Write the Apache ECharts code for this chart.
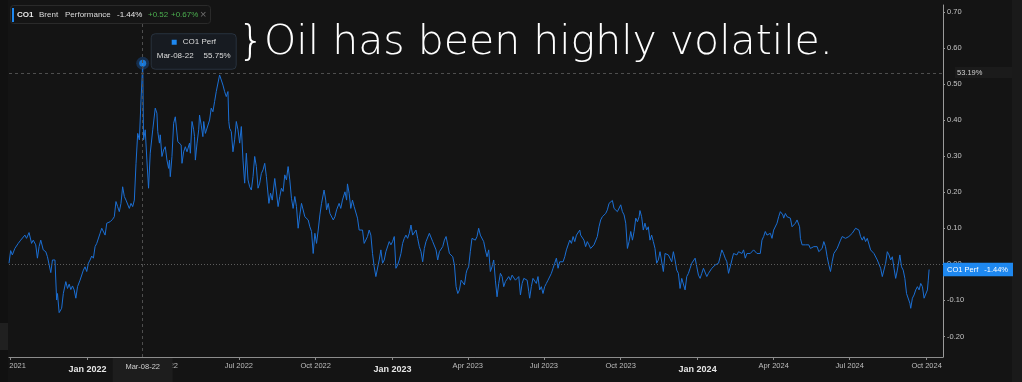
<!DOCTYPE html>
<html><head><meta charset="utf-8">
<script src="https://cdn.jsdelivr.net/npm/echarts@6/dist/echarts.min.js"></script>
<style>html,body{margin:0;padding:0;background:#141414;overflow:hidden}#c{width:1022px;height:382px;}</style>
</head><body><div id="c"></div>
<script>
// ---- Data: Brent (CO1) performance, fraction of starting price ----
const dates = [
'2021-09-29',
'2021-10-01','2021-10-03','2021-10-06','2021-10-10','2021-10-13','2021-10-15','2021-10-18','2021-10-20','2021-10-23','2021-10-26','2021-10-28','2021-10-31',
'2021-11-02','2021-11-04','2021-11-06','2021-11-09','2021-11-12','2021-11-14','2021-11-16','2021-11-18','2021-11-20','2021-11-23','2021-11-25','2021-11-26','2021-11-28',
'2021-12-01','2021-12-03','2021-12-06','2021-12-08','2021-12-10','2021-12-12','2021-12-14','2021-12-16','2021-12-18','2021-12-20','2021-12-23','2021-12-25','2021-12-27','2021-12-29','2021-12-31',
'2022-01-02','2022-01-04','2022-01-06','2022-01-08','2022-01-10','2022-01-12','2022-01-14','2022-01-16','2022-01-18','2022-01-20','2022-01-22','2022-01-24','2022-01-26','2022-01-28','2022-01-31',
'2022-02-02','2022-02-04','2022-02-06','2022-02-08','2022-02-10','2022-02-12','2022-02-14','2022-02-16','2022-02-18','2022-02-20','2022-02-22','2022-02-24','2022-02-26','2022-02-28',
'2022-03-02','2022-03-04','2022-03-06','2022-03-08','2022-03-09','2022-03-11','2022-03-13','2022-03-15','2022-03-17','2022-03-20','2022-03-22','2022-03-23','2022-03-25','2022-03-26','2022-03-28','2022-03-29','2022-03-31',
'2022-04-02','2022-04-04','2022-04-06','2022-04-08','2022-04-09','2022-04-10','2022-04-12','2022-04-14','2022-04-16','2022-04-18','2022-04-19','2022-04-21','2022-04-23','2022-04-24','2022-04-26','2022-04-28','2022-04-30',
'2022-05-03','2022-05-04','2022-05-06','2022-05-08','2022-05-09','2022-05-10','2022-05-12','2022-05-14','2022-05-15','2022-05-17','2022-05-19','2022-05-20','2022-05-22','2022-05-24','2022-05-27','2022-05-29','2022-05-31',
'2022-06-02','2022-06-04','2022-06-06','2022-06-08','2022-06-10','2022-06-12','2022-06-14','2022-06-16','2022-06-18','2022-06-19','2022-06-20','2022-06-22','2022-06-24','2022-06-26','2022-06-28','2022-06-30',
'2022-07-02','2022-07-04','2022-07-06','2022-07-08','2022-07-10','2022-07-12','2022-07-14','2022-07-16','2022-07-18','2022-07-20','2022-07-22','2022-07-24','2022-07-26','2022-07-28','2022-07-30',
'2022-08-01','2022-08-03','2022-08-06','2022-08-08','2022-08-10','2022-08-13','2022-08-15','2022-08-17','2022-08-19','2022-08-21','2022-08-23','2022-08-25','2022-08-27','2022-08-29','2022-08-31',
'2022-09-02','2022-09-04','2022-09-06','2022-09-08','2022-09-10','2022-09-12','2022-09-14','2022-09-16','2022-09-18','2022-09-20','2022-09-22','2022-09-24','2022-09-26','2022-09-28','2022-09-30',
'2022-10-02','2022-10-04','2022-10-06','2022-10-08','2022-10-11','2022-10-13','2022-10-14','2022-10-16','2022-10-18','2022-10-22','2022-10-24','2022-10-26','2022-10-29','2022-10-31',
'2022-11-02','2022-11-05','2022-11-07','2022-11-08','2022-11-10','2022-11-12','2022-11-14','2022-11-16','2022-11-17','2022-11-20','2022-11-22','2022-11-24','2022-11-26','2022-11-28','2022-11-30',
'2022-12-02','2022-12-04','2022-12-06','2022-12-08','2022-12-10','2022-12-12','2022-12-14','2022-12-16','2022-12-18','2022-12-20','2022-12-22','2022-12-24','2022-12-26','2022-12-28','2022-12-30',
'2023-01-01','2023-01-03','2023-01-05','2023-01-07','2023-01-09','2023-01-11','2023-01-13','2023-01-15','2023-01-17','2023-01-19','2023-01-21','2023-01-23','2023-01-25','2023-01-27','2023-01-29','2023-01-31',
'2023-02-02','2023-02-04','2023-02-06','2023-02-08','2023-02-10','2023-02-12','2023-02-14','2023-02-16','2023-02-18','2023-02-20','2023-02-22','2023-02-24','2023-02-26','2023-02-28',
'2023-03-02','2023-03-04','2023-03-06','2023-03-08','2023-03-10','2023-03-12','2023-03-14','2023-03-16','2023-03-18','2023-03-20','2023-03-22','2023-03-24','2023-03-26','2023-03-28','2023-03-30','2023-03-31',
'2023-04-02','2023-04-04','2023-04-06','2023-04-08','2023-04-10','2023-04-12','2023-04-14','2023-04-16','2023-04-18','2023-04-20','2023-04-22','2023-04-24','2023-04-26','2023-04-28','2023-04-30',
'2023-05-02','2023-05-04','2023-05-06','2023-05-08','2023-05-10','2023-05-12','2023-05-14','2023-05-16','2023-05-18','2023-05-20','2023-05-22','2023-05-24','2023-05-26','2023-05-28','2023-05-30',
'2023-06-01','2023-06-03','2023-06-05','2023-06-07','2023-06-09','2023-06-11','2023-06-13','2023-06-14','2023-06-16','2023-06-18','2023-06-20','2023-06-22','2023-06-24','2023-06-26','2023-06-28','2023-06-30',
'2023-07-02','2023-07-04','2023-07-06','2023-07-08','2023-07-10','2023-07-12','2023-07-14','2023-07-16','2023-07-18','2023-07-20','2023-07-22','2023-07-24','2023-07-26','2023-07-28','2023-07-30',
'2023-08-01','2023-08-03','2023-08-05','2023-08-07','2023-08-09','2023-08-11','2023-08-13','2023-08-14','2023-08-16','2023-08-18','2023-08-20','2023-08-22','2023-08-24','2023-08-26','2023-08-28','2023-08-30',
'2023-09-01','2023-09-03','2023-09-05','2023-09-07','2023-09-09','2023-09-11','2023-09-13','2023-09-15','2023-09-17','2023-09-19','2023-09-21','2023-09-23','2023-09-25','2023-09-27','2023-09-29',
'2023-10-01','2023-10-03','2023-10-05','2023-10-07','2023-10-09','2023-10-11','2023-10-13','2023-10-15','2023-10-17','2023-10-19','2023-10-21','2023-10-23','2023-10-24','2023-10-26','2023-10-28','2023-10-30',
'2023-11-01','2023-11-03','2023-11-05','2023-11-07','2023-11-09','2023-11-11','2023-11-13','2023-11-15','2023-11-17','2023-11-19','2023-11-21','2023-11-23','2023-11-25','2023-11-27','2023-11-29',
'2023-12-01','2023-12-03','2023-12-05','2023-12-07','2023-12-09','2023-12-11','2023-12-13','2023-12-15','2023-12-17','2023-12-19','2023-12-21','2023-12-23','2023-12-25','2023-12-27','2023-12-29','2023-12-31',
'2024-01-02','2024-01-04','2024-01-06','2024-01-08','2024-01-10','2024-01-12','2024-01-14','2024-01-16','2024-01-18','2024-01-20','2024-01-22','2024-01-24','2024-01-26','2024-01-28','2024-01-30',
'2024-02-01','2024-02-03','2024-02-05','2024-02-07','2024-02-09','2024-02-11','2024-02-13','2024-02-15','2024-02-17','2024-02-19','2024-02-21','2024-02-23','2024-02-25','2024-02-27','2024-02-29',
'2024-03-02','2024-03-04','2024-03-06','2024-03-08','2024-03-10','2024-03-12','2024-03-14','2024-03-16','2024-03-18','2024-03-20','2024-03-22','2024-03-24','2024-03-26','2024-03-28','2024-03-30',
'2024-04-01','2024-04-03','2024-04-05','2024-04-07','2024-04-09','2024-04-11','2024-04-12','2024-04-13','2024-04-15','2024-04-17','2024-04-19','2024-04-21','2024-04-23','2024-04-25','2024-04-27','2024-04-29','2024-04-30',
'2024-05-02','2024-05-03','2024-05-05','2024-05-07','2024-05-09','2024-05-11','2024-05-13','2024-05-15','2024-05-17','2024-05-19','2024-05-21','2024-05-23','2024-05-25','2024-05-27','2024-05-29','2024-05-31',
'2024-06-02','2024-06-04','2024-06-06','2024-06-08','2024-06-10','2024-06-12','2024-06-14','2024-06-16','2024-06-18','2024-06-20','2024-06-22','2024-06-24','2024-06-26','2024-06-28','2024-06-30',
'2024-07-02','2024-07-04','2024-07-06','2024-07-08','2024-07-10','2024-07-12','2024-07-14','2024-07-16','2024-07-18','2024-07-20','2024-07-22','2024-07-24','2024-07-26','2024-07-28','2024-07-30',
'2024-08-01','2024-08-03','2024-08-05','2024-08-07','2024-08-09','2024-08-11','2024-08-13','2024-08-15','2024-08-17','2024-08-19','2024-08-21','2024-08-23','2024-08-25','2024-08-27','2024-08-29','2024-08-30',
'2024-09-01','2024-09-03','2024-09-05','2024-09-07','2024-09-09','2024-09-11','2024-09-12','2024-09-14','2024-09-16','2024-09-18','2024-09-20','2024-09-22','2024-09-24','2024-09-26','2024-09-28','2024-09-30',
'2024-10-02','2024-10-03','2024-10-04'
];
const perf = [
0.003,
0.038,0.026,0.044,0.058,0.067,0.063,0.081,0.072,0.088,0.058,0.067,0.054,
0.017,0.049,0.067,0.040,0.035,0.021,0.021,-0.023,0.012,0.012,-0.099,-0.081,-0.134,
-0.122,-0.081,-0.048,-0.067,-0.055,-0.070,-0.060,-0.071,-0.094,-0.062,-0.044,-0.048,-0.016,-0.007,-0.020,
0.003,0.012,0.023,0.017,0.049,0.058,0.063,0.086,0.100,0.104,0.081,0.114,0.109,0.118,0.125,
0.132,0.174,0.160,0.146,0.169,0.215,0.188,0.178,0.183,0.155,0.169,0.160,0.178,0.280,
0.363,0.345,0.456,0.5575,0.345,0.373,0.289,0.211,0.308,0.373,0.368,0.433,0.419,0.368,0.336,0.359,0.299,
0.317,0.326,0.289,0.266,0.289,0.243,0.299,0.391,0.409,0.414,0.340,0.345,0.331,0.280,0.312,0.326,0.312,
0.336,0.308,0.396,0.373,0.354,0.289,0.336,0.373,0.414,0.386,0.354,0.396,0.363,0.368,0.400,0.433,0.423,
0.451,0.479,0.484,0.525,0.511,0.497,0.479,0.465,0.479,0.396,0.377,0.368,0.312,0.345,0.396,0.373,
0.336,0.382,0.289,0.225,0.308,0.234,0.215,0.206,0.243,0.299,0.271,0.211,0.225,0.252,0.262,
0.280,0.243,0.169,0.197,0.178,0.238,0.234,0.160,0.188,0.211,0.202,0.248,0.234,0.271,0.234,
0.183,0.155,0.188,0.160,0.100,0.137,0.169,0.174,0.132,0.137,0.123,0.104,0.091,0.030,0.086,
0.058,0.095,0.137,0.169,0.206,0.178,0.151,0.169,0.141,0.123,0.132,0.151,0.169,0.155,
0.178,0.201,0.178,0.223,0.197,0.155,0.178,0.160,0.165,0.128,0.095,0.091,0.095,0.058,0.063,
0.077,0.095,0.081,0.030,-0.007,-0.034,-0.030,0.012,0.040,0.003,0.012,0.035,0.030,0.063,0.054,
0.063,0.077,-0.011,-0.002,0.012,0.030,0.058,0.072,0.081,0.072,0.086,0.109,0.081,0.077,0.095,0.072,
0.049,0.035,0.007,0.044,0.063,0.063,0.086,0.081,0.063,0.067,0.040,0.012,0.035,0.030,
0.049,0.067,0.077,0.081,0.030,0.035,0.021,-0.002,-0.062,-0.081,-0.071,-0.044,-0.039,-0.057,-0.025,-0.016,
-0.007,0.035,0.072,0.072,0.067,0.077,0.100,0.081,0.081,0.063,0.040,0.021,0.040,-0.020,-0.007,
0.012,-0.044,-0.090,-0.053,-0.025,-0.034,-0.062,-0.048,-0.048,-0.034,-0.044,-0.030,-0.025,-0.044,-0.048,
-0.034,-0.085,-0.053,-0.039,-0.034,-0.044,-0.076,-0.094,-0.062,-0.039,-0.034,-0.053,-0.034,-0.071,-0.062,-0.081,
-0.062,-0.053,-0.044,-0.039,-0.025,-0.011,0.003,0.017,-0.011,0.007,0.003,0.007,0.021,0.040,0.044,
0.067,0.058,0.077,0.063,0.081,0.086,0.095,0.081,0.086,0.067,0.049,0.063,0.054,0.044,0.040,0.054,
0.058,0.077,0.104,0.123,0.132,0.134,0.141,0.151,0.169,0.174,0.177,0.155,0.151,0.146,0.151,
0.165,0.146,0.137,0.114,0.044,0.063,0.091,0.067,0.091,0.128,0.118,0.132,0.149,0.132,0.095,0.114,
0.095,0.104,0.067,0.081,0.063,0.044,0.003,0.012,0.035,0.030,-0.020,0.030,0.035,0.026,0.021,
0.007,0.035,0.012,-0.016,-0.025,-0.067,-0.039,-0.044,-0.071,-0.034,-0.025,-0.011,0.003,-0.002,0.017,-0.007,
-0.030,-0.039,-0.025,-0.011,-0.011,-0.034,-0.025,-0.020,-0.011,-0.016,-0.002,-0.007,0.003,0.021,0.040,
0.030,0.017,0.007,-0.025,-0.007,0.012,0.030,0.035,0.026,0.035,0.030,0.030,0.040,0.017,0.030,
0.035,0.030,0.035,0.040,0.035,0.030,0.035,0.030,0.067,0.077,0.091,0.081,0.077,0.086,0.072,
0.095,0.100,0.114,0.132,0.146,0.151,0.137,0.128,0.141,0.132,0.137,0.128,0.104,0.100,0.114,0.123,0.128,
0.104,0.072,0.054,0.049,0.054,0.049,0.054,0.044,0.040,0.049,0.054,0.049,0.035,0.030,0.044,0.063,
0.049,0.021,-0.002,-0.020,0.007,0.030,0.035,0.044,0.049,0.067,0.077,0.081,0.072,0.077,0.077,
0.081,0.086,0.091,0.100,0.104,0.095,0.077,0.067,0.077,0.063,0.072,0.067,0.040,0.035,0.030,
0.026,0.012,0.017,-0.011,-0.034,-0.030,0.003,0.035,0.026,0.012,0.021,-0.011,-0.039,-0.016,0.012,0.026,
-0.007,-0.016,-0.039,-0.081,-0.085,-0.108,-0.122,-0.094,-0.085,-0.071,-0.062,-0.071,-0.053,-0.062,-0.094,-0.094,
-0.071,-0.044,-0.0144
];
const xTicks = ['2021-10-01','2022-01-01','2022-04-01','2022-07-01','2022-10-01','2023-01-01','2023-04-01','2023-07-01','2023-10-01','2024-01-01','2024-04-01','2024-07-01','2024-10-01'];
const yTicks = [-0.2,-0.1,0,0.1,0.2,0.3,0.4,0.5,0.6,0.7];
const xRange = ['2021-09-29T00:00:00','2024-10-20T15:00:00'];
const yRange = [-0.257, 0.719];
const seriesName = 'CO1 Perf';
const headerTexts = ['CO1','Brent','Performance'];
const headerChanges = ['+0.52','+0.67%'];
const cursorLevel = 0.5319;
const annotation = '}Oil has been highly volatile.';

if (dates.length !== perf.length) console.error('length mismatch', dates.length, perf.length);

const MONTHS = ['Jan','Feb','Mar','Apr','May','Jun','Jul','Aug','Sep','Oct','Nov','Dec'];
const FONT = '"Liberation Sans", Arial, sans-serif';
const BLUE = '#1e88f0';
const LINE = '#1b6fd4';

const ts = s => +new Date(s.length === 10 ? s + 'T00:00:00' : s);
let peakIdx = 0;
perf.forEach((v,i)=>{ if (v > perf[peakIdx]) peakIdx = i; });
const lastIdx = perf.length - 1;
const pct = v => (v*100).toFixed(2) + '%';
function shortDate(s){ const p = s.split('-'); return MONTHS[+p[1]-1] + '-' + p[2] + '-' + p[0].slice(2); }

const chart = echarts.init(document.getElementById('c'), null, {renderer:'canvas'});
chart.setOption({
  backgroundColor: '#141414',
  animation: false,
  grid: {left: 9, right: 79, top: 5, bottom: 25, containLabel: false, outerBoundsMode: 'none'},
  xAxis: {
    type: 'value', min: ts(xRange[0]), max: ts(xRange[1]), scale: true,
    axisLine: {show: true, onZero: false, lineStyle: {color: '#8c8c8c', width: 1}},
    axisTick: {show: true, customValues: xTicks.map(ts), length: 3, lineStyle: {color: '#8c8c8c'}},
    splitLine: {show: false},
    axisLabel: {
      customValues: xTicks.map(ts), margin: 5, color: '#bdbdbd', fontSize: 7.5, fontFamily: FONT,
      hideOverlap: false, showMinLabel: true, showMaxLabel: true,
      formatter: function(v){
        const d = new Date(v); const m = d.getMonth();
        const t = MONTHS[m] + ' ' + d.getFullYear();
        return m === 0 ? '{b|' + t + '}' : t;
      },
      rich: {b: {fontWeight: 'bold', fontSize: 9, color: '#e6e6e6', fontFamily: FONT, padding: [3,0,0,0]}}
    }
  },
  yAxis: {
    type: 'value', position: 'right', min: yRange[0], max: yRange[1],
    axisLine: {show: true, onZero: false, lineStyle: {color: '#9a9a9a', width: 1}},
    axisTick: {show: true, customValues: yTicks, length: 2, lineStyle: {color: '#9a9a9a'}},
    splitLine: {show: false},
    axisLabel: {customValues: yTicks, margin: 4, color: '#c4c4c4', fontSize: 7.5, fontFamily: FONT,
      formatter: v => v.toFixed(2)}
  },
  series: [{
    type: 'line', name: seriesName,
    data: dates.map((d,i)=>[ts(d), perf[i]]),
    showSymbol: false, symbol: 'none',
    lineStyle: {color: LINE, width: 1},
    z: 2,
    markLine: {
      silent: true, symbol: 'none', animation: false, label: {show: false},
      data: [
        {yAxis: 0, lineStyle: {color: '#5c5c5c', type: [1,2], width: 1}},
        {yAxis: cursorLevel, lineStyle: {color: '#4e4e4e', type: [3,3], width: 1}},
        {xAxis: ts(dates[peakIdx]), lineStyle: {color: '#4e4e4e', type: [3,3], width: 1}}
      ]
    }
  }, {
    type: 'scatter', silent: true, z: 3,
    data: [[ts(dates[peakIdx]), perf[peakIdx]]],
    symbolSize: 13, itemStyle: {color: 'rgba(30,120,230,0.35)'}
  }, {
    type: 'scatter', silent: true, z: 4,
    data: [[ts(dates[peakIdx]), perf[peakIdx]]],
    symbolSize: 7, itemStyle: {color: BLUE}
  }]
});

const P = chart.convertToPixel({gridIndex: 0}, [ts(dates[peakIdx]), perf[peakIdx]]);
const yCursor = chart.convertToPixel({yAxisIndex: 0}, cursorLevel);
const yLast = chart.convertToPixel({yAxisIndex: 0}, perf[lastIdx]);
const txt = (x, y, text, o) => Object.assign({type: 'text', z: 100, x: x, y: y,
  style: Object.assign({text: text, fill: '#dcdcdc', fontSize: 8, fontFamily: FONT, verticalAlign: 'middle', align: 'left'}, o || {})});
const rect = (x, y, w, h, fill, o) => Object.assign({type: 'rect', z: 99, shape: {x: x, y: y, width: w, height: h, r: (o && o.r) || 0},
  style: Object.assign({fill: fill}, (o && o.style) || {})});

chart.setOption({graphic: [
  rect(0, 0, 8, 382, '#111111'),
  rect(0, 323, 8, 27, '#202020'),
  rect(1012, 0, 10, 382, '#1a1a1a'),
  rect(10.5, 5.5, 200, 18, '#151515', {r: 3, style: {stroke: '#2a2a2a', lineWidth: 1}}),
  rect(12, 8, 2, 14, BLUE),
  txt(17, 15, headerTexts[0], {fontWeight: 'bold', fill: '#e8e8e8'}),
  txt(39, 15, headerTexts[1]),
  txt(65, 15, headerTexts[2]),
  txt(117, 15, pct(perf[lastIdx]), {fill: '#e8e8e8'}),
  txt(148, 15, headerChanges[0], {fill: '#4caf50'}),
  txt(171, 15, headerChanges[1], {fill: '#4caf50'}),
  txt(200, 15, '\u00d7', {fill: '#6f6f6f', fontSize: 11}),
  rect(P[0] + 8.5, P[1] - 29.5, 85, 35.5, '#171b21', {r: 4, style: {stroke: '#28323e', lineWidth: 1}}),
  rect(P[0] + 29, P[1] - 23.5, 5, 5, BLUE),
  txt(P[0] + 40, P[1] - 21, seriesName),
  txt(P[0] + 14, P[1] - 7.5, shortDate(dates[peakIdx])),
  txt(P[0] + 88, P[1] - 7.5, pct(perf[peakIdx]), {align: 'right'}),
  rect(P[0] - 30, 358, 60, 24, '#1d1d1d'),
  txt(P[0], 366.5, shortDate(dates[peakIdx]), {align: 'center', fontSize: 7.5, fill: '#d0d0d0'}),
  rect(955, yCursor - 5.5, 57, 11, '#1b1b1b'),
  txt(957, yCursor, pct(cursorLevel), {fontSize: 7.5, fill: '#cfcfcf'}),
  rect(943, yLast - 6.8, 70, 13.6, BLUE),
  txt(947, yLast, seriesName, {fill: '#ffffff', fontSize: 7.5}),
  txt(1008, yLast, pct(perf[lastIdx]), {fill: '#ffffff', fontSize: 7.5, align: 'right'}),
  txt(238, 43, annotation, {fill: '#ffffff', fontSize: 41, fontWeight: 200, fontFamily: '"DejaVu Sans", sans-serif'})
]});
</script>
</body></html>
